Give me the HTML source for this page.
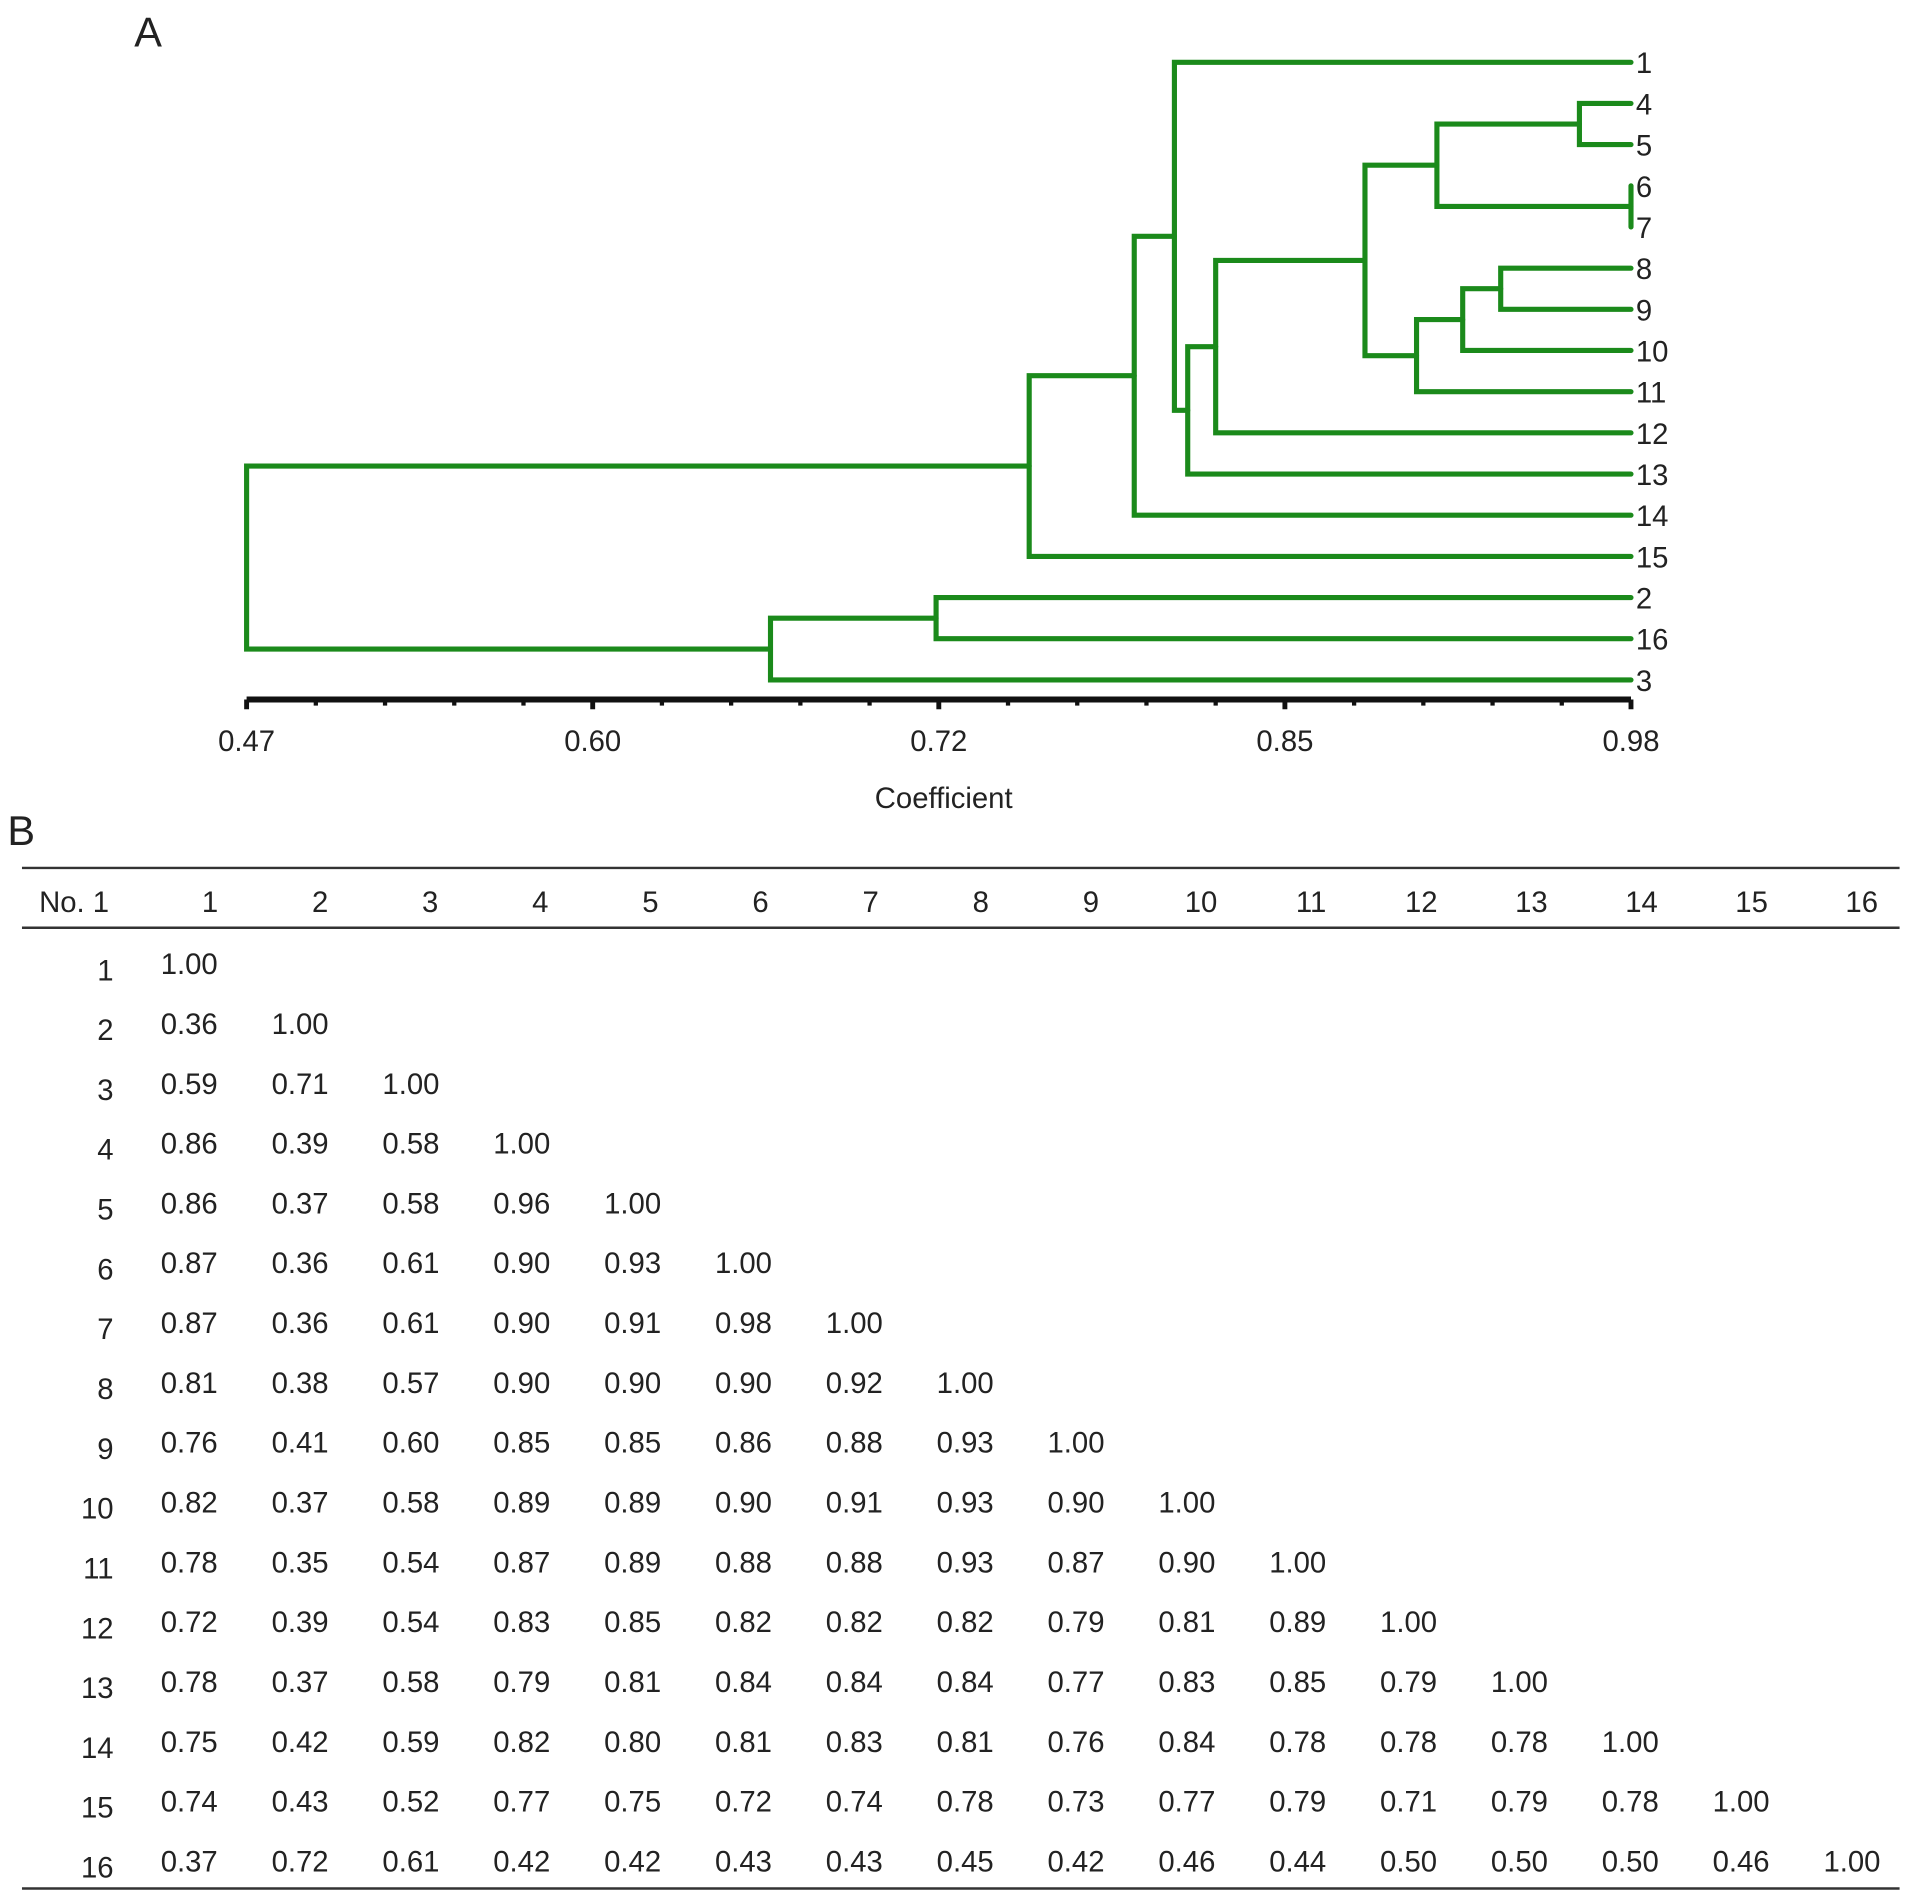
<!DOCTYPE html>
<html><head><meta charset="utf-8"><style>
html,body{margin:0;padding:0;background:#fff}
svg{display:block}
text{font-family:"Liberation Sans",Arial,sans-serif;fill:#222}
</style></head><body>
<svg id="fig" width="1913" height="1900" viewBox="0 0 1567 1556.4" preserveAspectRatio="none" xmlns="http://www.w3.org/2000/svg">
<text x="110" y="38" font-size="34">A</text>
<text x="6" y="692" font-size="34">B</text>
<g id="dendro"></g>
<g id="axis"></g>
<text x="773" y="662" font-size="24" text-anchor="middle">Coefficient</text>
<g id="table"></g>
</svg>
<script>
const NS="http://www.w3.org/2000/svg";
// leaf order top to bottom
const leafOrder=[1,4,5,6,7,8,9,10,11,12,13,14,15,2,16,3];
// internal nodes: [name, childA, childB, coefficient]
const nodeNames=["J","K","H","M","L","I","G","F","E","D","C","A","N","B","R"];
const nodeChildren=[["4","5"],["6","7"],["J","K"],["8","9"],["M","10"],["L","11"],["H","I"],["G","12"],["F","13"],["1","E"],["D","14"],["C","15"],["2","16"],["N","3"],["A","B"]];
const nodeHeights=[0.961,0.98,0.9085,0.932,0.918,0.901,0.882,0.827,0.8167,0.8118,0.797,0.7583,0.724,0.663,0.47];
const tickLabels=["0.47","0.60","0.72","0.85","0.98"];
const colLabels=["1","2","3","4","5","6","7","8","9","10","11","12","13","14","15","16"];
const rowLabels=["1","2","3","4","5","6","7","8","9","10","11","12","13","14","15","16"];
const tableRows=[
["1.00"],
["0.36","1.00"],
["0.59","0.71","1.00"],
["0.86","0.39","0.58","1.00"],
["0.86","0.37","0.58","0.96","1.00"],
["0.87","0.36","0.61","0.90","0.93","1.00"],
["0.87","0.36","0.61","0.90","0.91","0.98","1.00"],
["0.81","0.38","0.57","0.90","0.90","0.90","0.92","1.00"],
["0.76","0.41","0.60","0.85","0.85","0.86","0.88","0.93","1.00"],
["0.82","0.37","0.58","0.89","0.89","0.90","0.91","0.93","0.90","1.00"],
["0.78","0.35","0.54","0.87","0.89","0.88","0.88","0.93","0.87","0.90","1.00"],
["0.72","0.39","0.54","0.83","0.85","0.82","0.82","0.82","0.79","0.81","0.89","1.00"],
["0.78","0.37","0.58","0.79","0.81","0.84","0.84","0.84","0.77","0.83","0.85","0.79","1.00"],
["0.75","0.42","0.59","0.82","0.80","0.81","0.83","0.81","0.76","0.84","0.78","0.78","0.78","1.00"],
["0.74","0.43","0.52","0.77","0.75","0.72","0.74","0.78","0.73","0.77","0.79","0.71","0.79","0.78","1.00"],
["0.37","0.72","0.61","0.42","0.42","0.43","0.43","0.45","0.42","0.46","0.44","0.50","0.50","0.50","0.46","1.00"]
];

const X0=202,X1=1336,V0=0.47,V1=0.98;
function xs(v){return X0+(v-V0)/(V1-V0)*(X1-X0);}
const LY0=51,LDY=33.73;
function ys(i){return LY0+i*LDY;}
const GREEN="#1b8a1b";

function mk(tag,attrs,parent){const e=document.createElementNS(NS,tag);for(const k in attrs)e.setAttribute(k,attrs[k]);parent.appendChild(e);return e;}

const dg=document.getElementById('dendro');
const pos={};
leafOrder.forEach((l,i)=>{pos[String(l)]={x:xs(V1),y:ys(i)};});
nodeNames.forEach((n,i)=>{
  const [a,b]=nodeChildren[i];const x=xs(nodeHeights[i]);
  const pa=pos[a],pb=pos[b];
  const p=mk('path',{d:`M${pa.x},${pa.y}H${x}V${pb.y}H${pb.x}`,fill:'none',stroke:GREEN,'stroke-width':4.2,'stroke-linecap':'round','stroke-linejoin':'miter'},dg);
  
  
  pos[n]={x:x,y:(pa.y+pb.y)/2};
});
leafOrder.forEach((l,i)=>{
  const t=mk('text',{x:1340,y:ys(i)+9,'font-size':24},dg);
  t.textContent=String(l);
  
  
});

const ax=document.getElementById('axis');
const AY=573;
mk('line',{x1:X0,x2:X1,y1:AY,y2:AY,stroke:'#111','stroke-width':5},ax);
for(let k=0;k<=20;k++){
  const v=V0+k*(V1-V0)/20;const x=xs(v);const major=k%5===0;
  mk('line',{x1:x,x2:x,y1:AY,y2:AY+(major?8:5),stroke:'#111','stroke-width':major?4:3.5},ax);
}
tickLabels.forEach((lab,i)=>{
  const v=V0+i*(V1-V0)/(tickLabels.length-1);
  const t=mk('text',{x:xs(v),y:615,'font-size':24,'text-anchor':'middle'},ax);
  t.textContent=lab;
  
  
});

const tg=document.getElementById('table');
mk('line',{x1:18,x2:1556,y1:711,y2:711,stroke:'#333','stroke-width':2},tg);
mk('line',{x1:18,x2:1556,y1:760,y2:760,stroke:'#333','stroke-width':2},tg);
mk('line',{x1:18,x2:1556,y1:1547,y2:1547,stroke:'#333','stroke-width':2},tg);
const hdr=mk('text',{x:32,y:747,'font-size':24},tg);
hdr.textContent="No. 1";


function colX(j){return 155+j*90.8;}
function headX(j){return 172+j*90.2;}
colLabels.forEach((c,j)=>{
  const t=mk('text',{x:headX(j),y:747,'font-size':24,'text-anchor':'middle'},tg);
  t.textContent=c;
  
  
});
function rowY(i){return 798+i*49;}
rowLabels.forEach((r,i)=>{
  const t=mk('text',{x:93,y:rowY(i)+5,'font-size':24,'text-anchor':'end'},tg);
  t.textContent=r;
  
  
  tableRows[i].forEach((v,j)=>{
    const c=mk('text',{x:colX(j),y:rowY(i),'font-size':24,'text-anchor':'middle'},tg);
    c.textContent=v;
    
    
  });
});
</script>
</body></html>
